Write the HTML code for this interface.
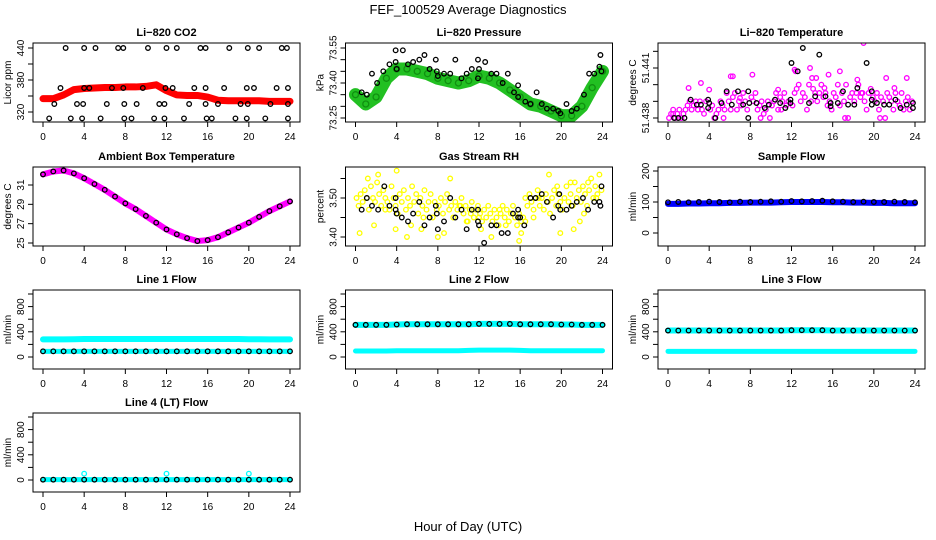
<!DOCTYPE html>
<html><head><meta charset="utf-8">
<style>
html,body{margin:0;padding:0;background:#fff;}
svg{display:block;font-family:"Liberation Sans",sans-serif;}
.tt{font-weight:bold;font-size:11px;}
.tk{font-size:10px;}
</style></head>
<body>
<svg id="c" width="936" height="540" viewBox="0 0 936 540">
<text x="468" y="14" text-anchor="middle" font-size="13">FEF_100529  Average Diagnostics</text>
<text x="468" y="531" text-anchor="middle" font-size="13">Hour of Day (UTC)</text>
</svg>
<script>
// ---------- data ----------
const hours = [0,1,2,3,4,5,6,7,8,9,10,11,12,13,14,15,16,17,18,19,20,21,22,23,24];
const xTicks = [0,4,8,12,16,20,24];

const co2Band = [345,345,352,362,364,365,366,366,367,367,368,371,360,352,351,351,348,342,341,341,341,341,340,340,340];
const co2BlackT = [2.2,4,5.1,7.3,7.8,10.2,12,13,15.3,15.8,18.1,19.9,21,23.2,23.7, 1.7,4,4.5,6.7,7.8,9.7,11.9,12.6,14.7,15.8,17.6,19.8,20.5,22.7,23.8, 1.1,3.3,3.9,6.2,7.9,9.1,11.3,11.8,14.2,15.8,17,19.2,19.9,22.1,23.8, 0.6,2.7,3.8,5.6,7.9,8.6,10.8,11.8,13.7,15.9,16.4,18.7,19.8,21.6,23.8];
const co2BlackV = [440,440,440,440,440,440,440,440,440,440,440,440,440,440,440, 365,365,365,365,365,365,365,365,365,365,365,365,365,365,365, 335,335,335,335,335,335,335,335,335,335,335,335,335,335,335, 308,308,308,308,308,308,308,308,308,308,308,308,308,308,308];

const presBand = [73.35,73.31,73.34,73.42,73.46,73.46,73.45,73.44,73.42,73.41,73.40,73.41,73.43,73.42,73.40,73.37,73.34,73.31,73.30,73.28,73.26,73.26,73.30,73.38,73.45];
const presBlackT = [0.6,1.1,1.6,2.1,2.7,3.3,3.9,3.9,4,4.6,5.1,5.6,6.2,6.7,7.2,7.8,7.9,8.0,8.6,9.2,9.7,10.3,10.8,11.3,11.9,11.9,12.0,12.6,13.2,13.7,14.3,14.8,15.4,15.8,15.8,16.5,17.0,17.6,18.1,18.6,19.2,19.7,19.9,20.5,21.0,21.5,22.2,22.7,23.2,23.7,23.8,23.9];
const presBlackV = [73.36,73.35,73.44,73.40,73.45,73.48,73.49,73.54,73.46,73.54,73.48,73.49,73.50,73.52,73.46,73.50,73.45,73.43,73.44,73.44,73.50,73.42,73.44,73.46,73.50,73.42,73.46,73.49,73.44,73.44,73.40,73.44,73.36,73.39,73.34,73.32,73.31,73.36,73.31,73.29,73.29,73.28,73.27,73.31,73.28,73.29,73.35,73.44,73.44,73.47,73.52,73.45];

const tempMagT = [0.1,0.3,0.5,0.7,0.9,1.1,1.3,1.5,1.7,1.9,2.1,2.3,2.5,2.7,2.9,3.1,3.3,3.5,3.7,4.1,4.3,4.5,4.7,4.9,5.1,5.3,5.5,5.7,5.9,6.1,6.3,6.5,6.7,6.9,7.1,7.3,7.5,7.7,8.1,8.3,8.5,8.7,8.9,9.1,9.3,9.5,9.7,9.9,10.1,10.3,10.5,10.7,10.9,11.1,11.3,11.5,11.7,12.1,12.3,12.5,12.7,12.9,13.1,13.3,13.5,13.7,13.9,14.1,14.3,14.5,14.7,14.9,15.1,15.3,15.5,15.7,15.9,16.1,16.3,16.5,16.7,16.9,17.1,17.3,17.5,17.7,17.9,18.1,18.3,18.5,18.7,18.9,19.0,19.1,19.3,19.5,19.7,19.9,20.1,20.3,20.5,20.7,20.9,21.1,21.3,21.5,21.7,21.9,22.1,22.3,22.5,22.7,22.9,23.1,23.3,23.5,23.7,2.0,3.2,4.0,6.1,6.3,8.2,10.7,12.4,13.8,14.0,15.6,16.7,18.4,21.2,22.0,23.2,12.3,14.4,0.5,5.4,9.0,17.2,20.6,7.0,11.0,15.2,18.8];
const tempMagV = [51.438,51.43825,51.4385,51.438,51.43825,51.4385,51.438,51.43825,51.4385,51.43875,51.439,51.4385,51.43875,51.439,51.4385,51.439,51.4385,51.43825,51.439,51.4385,51.43875,51.438,51.43825,51.4385,51.439,51.43875,51.4385,51.4395,51.439,51.4385,51.43925,51.4395,51.4385,51.439,51.43875,51.4395,51.439,51.4385,51.43925,51.439,51.4395,51.4385,51.43875,51.439,51.43825,51.4385,51.439,51.438,51.43875,51.439,51.4395,51.4385,51.43925,51.439,51.4395,51.43875,51.439,51.43875,51.4395,51.43975,51.44,51.439,51.4395,51.43925,51.4385,51.44,51.439,51.43975,51.4395,51.439,51.4395,51.44,51.43925,51.4395,51.43875,51.439,51.4385,51.4395,51.43925,51.44,51.43875,51.4395,51.439,51.44,51.438,51.43925,51.4395,51.439,51.4395,51.44,51.43925,51.4395,51.4425,51.439,51.4385,51.4395,51.43975,51.43925,51.439,51.4395,51.4385,51.43925,51.439,51.438,51.4395,51.43925,51.439,51.4385,51.4395,51.439,51.43875,51.4395,51.4385,51.439,51.43925,51.4385,51.439,51.4398,51.4401,51.4397,51.4405,51.4405,51.4406,51.4397,51.4408,51.441,51.4404,51.4406,51.4408,51.4403,51.4404,51.4398,51.4404,51.4409,51.4404,51.43825,51.438,51.438,51.438,51.438,51.4392,51.4385,51.4398,51.4395];
const tempBlackT = [0.6,1,1.6,2.2,2.8,3.2,3.9,3.9,4,4.6,5.2,5.7,6.2,6.8,7.3,7.8,7.8,7.9,8.6,9.4,9.8,10.4,10.9,11.4,11.9,11.9,12.0,12.6,13.1,13.7,14.3,14.7,15.3,15.8,15.8,16.5,17,17.5,18.1,18.4,19.8,19.8,19.8,19.3,20.3,21,21.5,22.1,22.6,23.2,23.8,23.8];
const tempBlackV = [51.438,51.438,51.438,51.4391,51.4388,51.4388,51.4386,51.4391,51.4389,51.438,51.4389,51.4396,51.4388,51.4396,51.4388,51.438,51.4396,51.4389,51.4389,51.4386,51.4388,51.4391,51.4389,51.4386,51.4389,51.4391,51.4413,51.4408,51.4422,51.4389,51.4393,51.4418,51.4393,51.4389,51.4387,51.4389,51.4396,51.4388,51.4388,51.4398,51.4396,51.4391,51.4388,51.4413,51.4389,51.4388,51.4388,51.4391,51.4386,51.4388,51.4389,51.4386];

const ambient = [32.1,32.4,32.5,32.2,31.7,31.1,30.5,29.8,29.1,28.5,27.8,27.1,26.4,25.9,25.5,25.2,25.3,25.6,26.1,26.6,27.1,27.7,28.3,28.8,29.3];

const rhYelT = [0.1,0.3,0.5,0.7,0.9,1.1,1.3,1.5,1.7,1.9,2.1,2.3,2.5,2.7,2.9,3.1,3.3,3.5,3.7,3.9,4.1,4.3,4.5,4.7,4.9,5.1,5.3,5.5,5.7,5.9,6.1,6.3,6.5,6.7,6.9,7.1,7.3,7.5,7.7,7.9,8.1,8.3,8.5,8.7,8.9,9.1,9.3,9.5,9.7,9.9,10.1,10.3,10.5,10.7,10.9,11.1,11.3,11.5,11.7,11.9,12.1,12.3,12.5,12.7,12.9,13.1,13.3,13.5,13.7,13.9,14.1,14.3,14.5,14.7,14.9,15.1,15.3,15.5,15.7,15.9,16.1,16.3,16.5,16.7,16.9,17.1,17.3,17.5,17.7,17.9,18.1,18.3,18.5,18.7,18.9,19.1,19.3,19.5,19.7,19.9,20.1,20.3,20.5,20.7,20.9,21.1,21.3,21.5,21.7,21.9,22.1,22.3,22.5,22.7,22.9,23.1,23.3,23.5,23.7,23.9,1.2,2.2,2.9,3.9,5.4,6.4,8.6,9.2,10.8,12.2,13.2,14.6,16.1,17.3,18.8,19.6,20.9,21.8,22.6,23.4,4.0,8.0,12.0,15.9,19.9,1.8,6.6,10.2,14.0,17.8,21.2,0.4,5.0,11.2,16.5,22.2];
const rhYelV = [3.50,3.48,3.51,3.49,3.52,3.50,3.47,3.53,3.50,3.49,3.54,3.51,3.48,3.52,3.50,3.49,3.47,3.53,3.50,3.48,3.46,3.51,3.49,3.52,3.47,3.50,3.48,3.53,3.49,3.51,3.46,3.50,3.48,3.52,3.47,3.49,3.51,3.45,3.49,3.47,3.48,3.50,3.46,3.49,3.51,3.47,3.48,3.45,3.49,3.47,3.48,3.50,3.46,3.48,3.44,3.47,3.49,3.45,3.47,3.48,3.46,3.44,3.47,3.45,3.48,3.46,3.44,3.47,3.45,3.43,3.46,3.48,3.45,3.47,3.44,3.46,3.48,3.45,3.43,3.46,3.44,3.45,3.50,3.48,3.51,3.49,3.47,3.50,3.52,3.48,3.50,3.47,3.51,3.49,3.46,3.50,3.52,3.48,3.51,3.49,3.47,3.50,3.53,3.49,3.51,3.48,3.54,3.50,3.52,3.49,3.53,3.51,3.48,3.52,3.55,3.50,3.53,3.51,3.56,3.52,3.55,3.56,3.47,3.42,3.43,3.42,3.41,3.55,3.44,3.42,3.40,3.43,3.41,3.45,3.56,3.53,3.54,3.44,3.54,3.50,3.57,3.40,3.45,3.39,3.41,3.43,3.45,3.48,3.47,3.50,3.42,3.41,3.40,3.46,3.44,3.46,3.44,3.42];
const rhBlackT = [0.6,1.1,1.6,2.2,2.8,3.3,3.9,3.9,4.0,4.5,5.1,5.6,6.2,6.7,7.2,7.8,7.9,8.0,8.6,9.2,9.7,10.3,10.8,11.3,11.9,11.9,12.0,12.5,13.2,13.7,14.2,14.8,15.3,15.8,15.8,16.0,16.4,17.0,17.5,18.1,18.6,19.2,19.7,19.8,19.9,20.5,21.0,21.5,22.1,22.6,23.2,23.7,23.8,23.9];
const rhBlackV = [3.47,3.50,3.48,3.47,3.53,3.48,3.50,3.47,3.46,3.45,3.44,3.46,3.49,3.43,3.45,3.48,3.46,3.42,3.44,3.50,3.45,3.47,3.42,3.47,3.47,3.44,3.43,3.385,3.43,3.43,3.41,3.41,3.46,3.47,3.45,3.45,3.43,3.50,3.50,3.51,3.49,3.45,3.48,3.51,3.47,3.47,3.48,3.49,3.50,3.47,3.49,3.49,3.48,3.53];

const sampleBlue = [94,94,95,95,96,96,97,97,98,98,98,99,100,100,100,100,99,99,98,98,97,97,96,96,96];
const sampleBlack = [99,100,99,100,101,100,99,101,100,101,102,101,103,102,103,104,102,101,100,101,100,100,101,100,99];

const line1Cyan = [280,280,280,282,285,285,285,285,285,285,285,285,285,285,285,285,285,285,285,285,282,282,280,280,280];
const line1Low = [90,90,90,90,90,90,90,90,90,90,90,90,90,90,90,90,90,90,90,90,90,90,90,90,90];
const line2Cyan = [510,510,510,510,515,520,520,520,520,520,520,520,525,525,525,525,520,520,520,520,515,515,510,510,510];
const line2Low = [95,95,95,95,100,100,100,100,100,100,100,105,110,110,110,110,105,100,100,100,100,100,100,100,100];
const line3Cyan = [420,420,420,420,420,420,420,420,420,420,420,420,425,425,425,425,420,420,420,420,420,420,420,420,420];
const line3Low = [90,90,90,90,90,90,90,90,90,90,90,90,90,90,90,90,90,90,90,90,90,90,90,90,90];
const line4Base = [5,5,5,5,5,5,5,5,5,5,5,5,5,5,5,5,5,5,5,5,5,5,5,5,5];
const line4SpikeT = [4,12,20];
const line4SpikeV = [100,100,100];

// ---------- drawing ----------
const NS = "http://www.w3.org/2000/svg";
const svg = document.getElementById('c');
function mk(tag, attrs, parent){
  const e = document.createElementNS(NS, tag);
  for (const k in attrs) e.setAttribute(k, attrs[k]);
  (parent||svg).appendChild(e);
  return e;
}
const colX0 = [43, 355.5, 668];
const rowTop = [43, 167, 290, 413];
const HPX = 247/24;
const BOXH = 79;

function panel(col, row, title, ylab, name, yv1, yp1, yv2, yp2, yTicks, yLabels){
  const g = mk('g', {});
  
  
  const x0 = colX0[col], top = rowTop[row];
  const left = x0 - 10, right = x0 + 257, bottom = top + BOXH;
  const xs = t => x0 + t * HPX;
  const ys = v => yp1 + (v - yv1) * (yp2 - yp1) / (yv2 - yv1);
  const clip = 'clip-' + name;
  const cp = mk('clipPath', {id:clip}, g);
  mk('rect', {x:left, y:top, width:right-left, height:BOXH}, cp);
  const pg = mk('g', {'clip-path':'url(#' + clip + ')'}, g);
  const box = mk('rect', {x:left, y:top, width:right-left, height:BOXH, fill:'none', stroke:'#000', 'stroke-width':1}, g);
  
  
  const tt = mk('text', {x:(left+right)/2, y:top-7, 'text-anchor':'middle', 'class':'tt'}, g);
  tt.textContent = title;
  
  
  for (const t of xTicks){
    mk('line', {x1:xs(t), x2:xs(t), y1:bottom, y2:bottom+5, stroke:'#000'}, g);
    const lb = mk('text', {x:xs(t), y:bottom+18, 'text-anchor':'middle', 'class':'tk'}, g);
    lb.textContent = t;
    
    
  }
  for (let i=0;i<yTicks.length;i++){
    const y = ys(yTicks[i]);
    mk('line', {x1:left-5, x2:left, y1:y, y2:y, stroke:'#000'}, g);
    if (yLabels[i] !== ''){
      const lb = mk('text', {x:0, y:0, 'text-anchor':'middle', 'class':'tk', transform:'translate(' + (left-9) + ',' + y + ') rotate(-90)'}, g);
      lb.textContent = yLabels[i];
      
      
    }
  }
  const yl = mk('text', {x:0, y:0, 'text-anchor':'middle', transform:'translate(' + (left-22) + ',' + (top+BOXH/2) + ') rotate(-90)'}, g);
  yl.setAttribute('font-size', '10');
  yl.textContent = ylab;
  
  
  return {xs:xs, ys:ys, g:pg};
}
function band(p, vals, color, w, name){
  const pts = hours.map((h,i)=>p.xs(h)+','+p.ys(vals[i])).join(' ');
  const pl = mk('polyline', {points:pts, fill:'none', stroke:color, 'stroke-width':w, 'stroke-linejoin':'round', 'stroke-linecap':'round'}, p.g);
  
  
}
function circles(p, ts, vs, color, name, r){
  for (let i=0;i<ts.length;i++){
    const c = mk('circle', {cx:p.xs(ts[i]), cy:p.ys(vs[i]), r:r||2.3, fill:'none', stroke:color, 'stroke-width':1.3}, p.g);
    
    
  }
}
function hourCircles(p, vals, color, name){ circles(p, hours, vals, color, name); }

let p = panel(0,0,'Li−820 CO2','Licor ppm','co2',320,112,440,48,[320,350,380,410,440],['320','','380','','440']);
band(p, co2Band, '#f00', 7, 'co2-red-band');
circles(p, co2BlackT, co2BlackV, '#000', 'co2-black-point');

p = panel(1,0,'Li−820 Pressure','kPa','pressure',73.25,118,73.55,48,[73.25,73.30,73.35,73.40,73.45,73.50,73.55],['73.25','','','73.40','','','73.55']);
band(p, presBand, '#22c022', 13, 'pressure-green-band');
circles(p, hours, presBand, '#109010', 'pressure-green-point', 3);
circles(p, presBlackT, presBlackV, '#000', 'pressure-black-point');

p = panel(2,0,'Li−820 Temperature','degrees C','licor-temp',51.438,118,51.441,68,[51.438,51.439,51.440,51.441,51.442],['51.438','','','51.441','']);
circles(p, tempMagT, tempMagV, '#f0f', 'temp-magenta-point');
circles(p, tempBlackT, tempBlackV, '#000', 'temp-black-point');

p = panel(0,1,'Ambient Box Temperature','degrees C','ambient',25,243,31,185,[25,27,29,31],['25','27','29','31']);
band(p, ambient, '#f0f', 6, 'ambient-magenta-band');
hourCircles(p, ambient, '#000', 'ambient-black-point');

p = panel(1,1,'Gas Stream RH','percent','rh',3.40,237,3.50,198,[3.40,3.45,3.50,3.55],['3.40','','3.50','']);
circles(p, rhYelT, rhYelV, '#ff0', 'rh-yellow-point');
circles(p, rhBlackT, rhBlackV, '#000', 'rh-black-point');

p = panel(2,1,'Sample Flow','ml/min','sample-flow',0,233,200,171,[0,50,100,150,200],['0','','100','','200']);
band(p, sampleBlue, '#00f', 6, 'sample-blue-band');
hourCircles(p, sampleBlack, '#000', 'sample-black-point');

const flowTicks = [0,200,400,600,800,1000], flowLabels = ['0','','400','','800',''];
p = panel(0,2,'Line 1 Flow','ml/min','line1',0,357,1000,294,flowTicks,flowLabels);
band(p, line1Cyan, '#0ff', 6, 'line1-cyan-band');
band(p, line1Low, '#0ff', 5, 'line1-cyan-low-band');
hourCircles(p, line1Low, '#000', 'line1-black-point');
p = panel(1,2,'Line 2 Flow','ml/min','line2',0,357,1000,294,flowTicks,flowLabels);
band(p, line2Cyan, '#0ff', 6, 'line2-cyan-band');
band(p, line2Low, '#0ff', 5, 'line2-cyan-low-band');
hourCircles(p, line2Cyan, '#000', 'line2-black-point');
p = panel(2,2,'Line 3 Flow','ml/min','line3',0,357,1000,294,flowTicks,flowLabels);
band(p, line3Cyan, '#0ff', 6, 'line3-cyan-band');
band(p, line3Low, '#0ff', 5, 'line3-cyan-low-band');
hourCircles(p, line3Cyan, '#000', 'line3-black-point');
p = panel(0,3,'Line 4 (LT) Flow','ml/min','line4',0,480,1000,417,flowTicks,flowLabels);
band(p, line4Base, '#0ff', 5, 'line4-cyan-band');
circles(p, line4SpikeT, line4SpikeV, '#0ff', 'line4-cyan-spike');
hourCircles(p, line4Base, '#000', 'line4-black-point');
</script>
</body></html>
